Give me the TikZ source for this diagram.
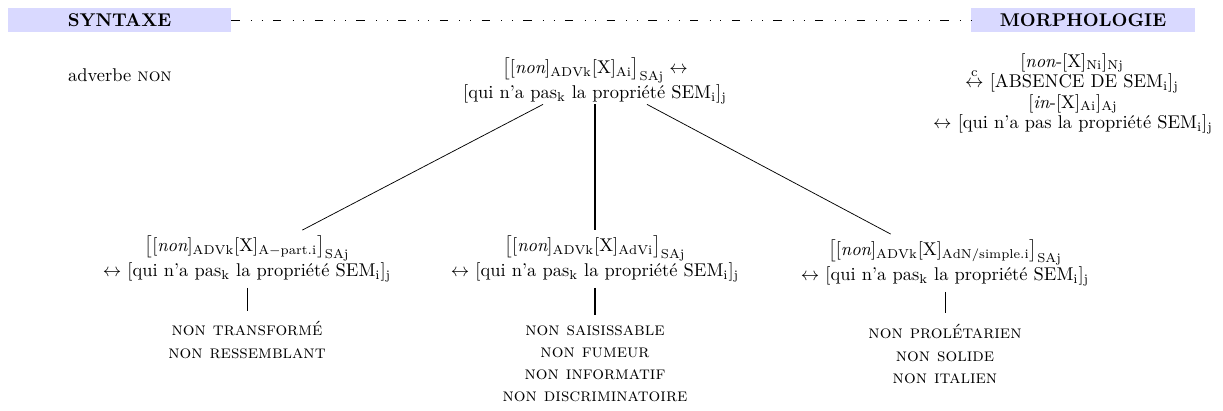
\documentclass[tikz,border=0pt]{standalone}
\usepackage{fontspec}
\usepackage{amsmath}
\usetikzlibrary{calc}
\begin{document}
\begin{tikzpicture}[x=0.542pt,y=-0.542pt,
  band/.style={fill=blue!15, draw=none, inner sep=0pt, minimum height=13pt, font=\bfseries},
  formula/.style={align=center, inner sep=0pt, outer sep=3pt},
  rootf/.style={align=center, inner sep=0pt, outer sep=0pt},
  morph/.style={align=center, inner sep=0pt, execute at begin node={\lineskiplimit=-20pt}},
  exlist/.style={align=center, inner sep=0pt, outer sep=6pt},
  plain/.style={inner sep=0pt},
  branch/.style={line width=0.4pt},
  mainbranch/.style={line width=1.2pt},
  sepline/.style={line width=0.4pt, dash pattern=on 4.5pt off 6.1pt on 0.4pt off 5.4pt on 0.4pt off 5.8pt}]
\useasboundingbox (0,0) rectangle (1223,411);

\node[band, minimum width=120.9pt] (syn) at (119.5,20) {SYNTAXE};
\node[band, minimum width=121.4pt] (mor) at (1083,20) {MORPHOLOGIE};
\draw[sepline] (syn.east) -- (mor.west);

\node[plain] (adv) at (120,75) {adverbe \textsc{non}};

\node[rootf] (root) at (595,81) {$\big[[\textit{non}]_{\mathrm{ADVk}}[\mathrm{X}]_{\mathrm{Ai}}\big]_{\mathrm{SAj}}\leftrightarrow$\\
{[}qui n'a pas$_{\mathrm{k}}$ la propriété SEM$_{\mathrm{i}}$]$_{\mathrm{j}}$};

\node[morph] (m1) at (1072,73) {[\textit{non}-[X]$_{\mathrm{Ni}}$]$_{\mathrm{Nj}}$\\[-1pt]
$\stackrel{\mathrm{c}}{\leftrightarrow}$ [ABSENCE DE SEM$_{\mathrm{i}}$]$_{\mathrm{j}}$};
\node[morph] (m2) at (1073,114) {[\textit{in}-[X]$_{\mathrm{Ai}}$]$_{\mathrm{Aj}}$\\[-1pt]
$\leftrightarrow$ [qui n'a pas la propriété SEM$_{\mathrm{i}}$]$_{\mathrm{j}}$};

\node[formula] (c1) at (247,259) {$\big[[\textit{non}]_{\mathrm{ADVk}}[\mathrm{X}]_{\mathrm{A-part.i}}\big]_{\mathrm{SAj}}$\\
$\leftrightarrow$ [qui n'a pas$_{\mathrm{k}}$ la propriété SEM$_{\mathrm{i}}$]$_{\mathrm{j}}$};
\node[formula] (c2) at (595,259) {$\big[[\textit{non}]_{\mathrm{ADVk}}[\mathrm{X}]_{\mathrm{AdVi}}\big]_{\mathrm{SAj}}$\\
$\leftrightarrow$ [qui n'a pas$_{\mathrm{k}}$ la propriété SEM$_{\mathrm{i}}$]$_{\mathrm{j}}$};
\node[formula] (c3) at (945,263) {$\big[[\textit{non}]_{\mathrm{ADVk}}[\mathrm{X}]_{\mathrm{AdN/simple.i}}\big]_{\mathrm{SAj}}$\\
$\leftrightarrow$ [qui n'a pas$_{\mathrm{k}}$ la propriété SEM$_{\mathrm{i}}$]$_{\mathrm{j}}$};

\node[exlist] (l1) at (247,340) {\textsc{non transformé}\\\textsc{non ressemblant}};
\node[exlist] (l2) at (595,364) {\textsc{non saisissable}\\\textsc{non fumeur}\\\textsc{non informatif}\\\textsc{non discriminatoire}};
\node[exlist] (l3) at (945,354) {\textsc{non prolétarien}\\\textsc{non solide}\\\textsc{non italien}};

\draw[branch] ($(root.south)+(-52,0)$) -- (c1);
\draw[mainbranch] (root) -- (c2);
\draw[branch] ($(root.south)+(52,0)$) -- (c3);
\draw[branch] (c1) -- (l1);
\draw[mainbranch] (c2) -- (l2);
\draw[branch] (c3) -- (l3);
\end{tikzpicture}
\end{document}
